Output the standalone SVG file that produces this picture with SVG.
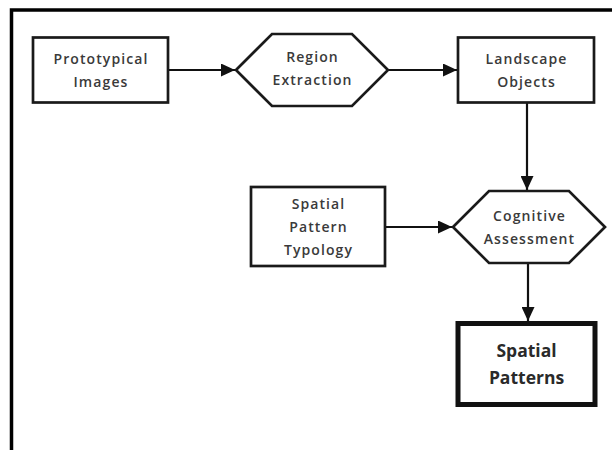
<svg xmlns="http://www.w3.org/2000/svg" width="612" height="450" viewBox="0 0 612 450">
<defs>
<style>
.box{fill:#fff;stroke:#1a1a1a;stroke-width:2.7}
.thick{fill:#fff;stroke:#111;stroke-width:5}
.edge{fill:none;stroke:#111;stroke-width:2.2}
.t{font-family:"Open Sans","Noto Sans",sans-serif;font-size:14px;font-weight:600;letter-spacing:1.1px;fill:#3a3a3a;text-anchor:middle}
.tb{font-family:"Open Sans","Noto Sans",sans-serif;font-size:17.5px;font-weight:bold;fill:#2a2a2a;text-anchor:middle}
</style>
<marker id="ah" viewBox="0 0 14 13" refX="14" refY="6.5" markerWidth="14" markerHeight="13" markerUnits="userSpaceOnUse" orient="auto">
<path d="M0,0 L14,6.5 L0,13 z" fill="#111"/>
</marker>
</defs>
<rect width="612" height="450" fill="#fff"/>
<path d="M11.5,450 V10 H612" fill="none" stroke="#000" stroke-width="3.5"/>
<g id="connectors">
<line class="edge" x1="168" y1="70" x2="235" y2="70" marker-end="url(#ah)"/>
<line class="edge" x1="388" y1="70" x2="457" y2="70" marker-end="url(#ah)"/>
<line class="edge" x1="527" y1="103" x2="527" y2="190" marker-end="url(#ah)"/>
<line class="edge" x1="385" y1="227" x2="452" y2="227" marker-end="url(#ah)"/>
<line class="edge" x1="528" y1="263" x2="528" y2="321" marker-end="url(#ah)"/>
</g>
<g id="prototypical-images">
<rect class="box" x="33" y="37.5" width="135" height="65"/>
<text class="t" x="101" y="64">Prototypical</text>
<text class="t" x="101" y="87">Images</text>
</g>
<g id="region-extraction">
<polygon class="box" points="236,70 272,34 352,34 388,70 352,106 272,106"/>
<text class="t" x="312.5" y="62">Region</text>
<text class="t" x="312.5" y="85">Extraction</text>
</g>
<g id="landscape-objects">
<rect class="box" x="458" y="37.5" width="136" height="65"/>
<text class="t" x="526.5" y="64">Landscape</text>
<text class="t" x="526.5" y="87">Objects</text>
</g>
<g id="spatial-pattern-typology">
<rect class="box" x="251" y="187" width="134" height="79"/>
<text class="t" x="318.5" y="209">Spatial</text>
<text class="t" x="318.5" y="232">Pattern</text>
<text class="t" x="318.5" y="255">Typology</text>
</g>
<g id="cognitive-assessment">
<polygon class="box" points="453,227 489,191 569,191 605,227 569,263 489,263"/>
<text class="t" x="529.5" y="221">Cognitive</text>
<text class="t" x="529.5" y="244">Assessment</text>
</g>
<g id="spatial-patterns">
<rect class="thick" x="458" y="323.5" width="137" height="81"/>
<text class="tb" x="526.5" y="357">Spatial</text>
<text class="tb" x="526.5" y="384">Patterns</text>
</g>
</svg>
